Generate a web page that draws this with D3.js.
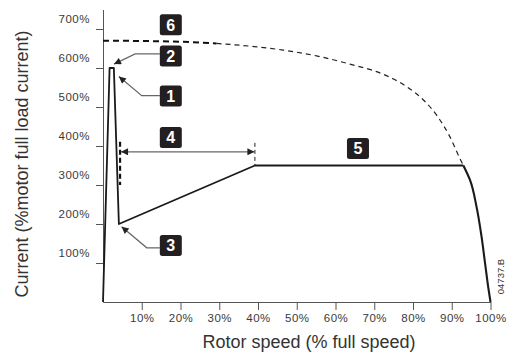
<!DOCTYPE html>
<html lang="en">
<head>
    <meta charset="UTF-8">
    <title>Soft start current profile</title>
    <script src="https://d3js.org/d3.v7.min.js"></script>
    <style>
        body { margin: 0; background: #fff; }
        .tick text { font-family: Arial, "Liberation Sans", sans-serif; font-size: 11.5px; fill: #3a3a3a; letter-spacing: 0.5px; }
        .title { font-family: Arial, "Liberation Sans", sans-serif; font-size: 18px; fill: #333; }
        .num { font-family: Arial, "Liberation Sans", sans-serif; font-size: 16px; font-weight: bold; fill: #fff; }
    </style>
</head>
<body>
<svg width="514" height="353"></svg>

<script>
    // ticks
    const yTicks = [100, 200, 300, 400, 500, 600, 700];
    const xTicks = [10, 20, 30, 40, 50, 60, 70, 80, 90, 100];

    // motor current during soft start (% speed, % FLC)
    const curX = [0, 1.7, 2.8, 4.1, 39.2, 93, 94.7, 96.4, 97.7, 98.6, 99.4, 100];
    const curY = [0, 600, 600, 200, 350, 350, 313, 244, 167, 99, 39, 0];

    // direct on line current (dashed)
    const dolX = [0, 12.1, 20.7, 29.3, 37.9, 46.5, 55.1, 63.7, 72.3, 78.4, 82.7, 86.1, 89.5, 92.1, 93];
    const dolY = [670, 669, 667, 663, 656, 646, 631, 610, 584, 552, 518, 479, 424, 368, 350];

    // numbered callouts with leaders: box centre, elbow, arrow tip
    const calloutIds = ["1", "2", "3"];
    const calloutBox = [[17.5, 528], [17.5, 631], [17.5, 145]];
    const calloutElbow = [[10, 529], [8.3, 636], [11.3, 139]];
    const calloutTip = [[4.1, 578], [2.84, 610], [4.8, 193]];

    // plain labels
    const labelIds = ["6", "4", "5"];
    const labelPos = [[17.5, 711], [17.5, 422], [65.8, 393.5]];

    // ramp span (4)
    const rampFrom = 4.4, rampTo = 39.2, rampLevel = 385;

    const svg = d3.select("svg");
    const x = d3.scaleLinear().domain([0, 100]).range([103, 490.5]);
    const y = d3.scaleLinear().domain([0, 750]).range([302, 9.5]);

    const defs = svg.append("defs");
    defs.append("marker")
        .attr("id", "arr")
        .attr("viewBox", "0 0 10 10")
        .attr("refX", 10).attr("refY", 5)
        .attr("markerWidth", 10).attr("markerHeight", 7)
        .attr("markerUnits", "userSpaceOnUse")
        .attr("orient", "auto-start-reverse")
        .append("path")
        .attr("d", "M0,0L10,5L0,10Z")
        .attr("fill", "#222");

    // axes
    const yAxis = svg.append("g")
        .attr("transform", `translate(${x(0)},0)`)
        .call(d3.axisLeft(y).tickValues(yTicks).tickSize(7).tickSizeOuter(0)
            .tickFormat(d => d + "%"));
    yAxis.select(".domain").attr("stroke", "#555");
    yAxis.selectAll(".tick line").attr("stroke", "#555");
    yAxis.selectAll(".tick text").attr("x", -13).attr("dy", "-0.55em");

    const xAxis = svg.append("g")
        .attr("transform", `translate(0,${y(0)})`)
        .call(d3.axisBottom(x).tickValues(xTicks).tickSize(8).tickSizeOuter(0)
            .tickFormat(d => d + "%"));
    xAxis.select(".domain").attr("stroke", "#555");
    xAxis.selectAll(".tick line").attr("stroke", "#555");
    xAxis.selectAll(".tick text").attr("y", 12);

    svg.append("text").attr("class", "title")
        .attr("transform", "translate(27.5,164) rotate(-90)")
        .attr("text-anchor", "middle")
        .text("Current (%motor full load current)");
    svg.append("text").attr("class", "title")
        .attr("x", 309).attr("y", 348)
        .attr("text-anchor", "middle")
        .text("Rotor speed (% full speed)");
    svg.append("text")
        .attr("transform", "translate(503.5,276.5) rotate(-90)")
        .attr("text-anchor", "middle")
        .attr("font-family", "Arial, 'Liberation Sans', sans-serif")
        .attr("font-size", "9.5px").attr("fill", "#333")
        .text("04737.B");

    // dashed DOL curve: heavy dashes at low speed, light after
    const line = d3.line().x(d => x(d[0])).y(d => y(d[1]));
    const dol = dolX.map((v, i) => [v, dolY[i]]);
    svg.append("path")
        .attr("d", line.curve(d3.curveMonotoneX)(dol.slice(3)))
        .attr("fill", "none").attr("stroke", "#222")
        .attr("stroke-width", 1.2).attr("stroke-dasharray", "5,4");
    svg.append("path")
        .attr("d", line.curve(d3.curveMonotoneX)(dol.slice(0, 4)))
        .attr("fill", "none").attr("stroke", "#111")
        .attr("stroke-width", 2).attr("stroke-dasharray", "6,4");

    // ramp markers
    svg.append("line")
        .attr("x1", x(rampFrom)).attr("x2", x(rampFrom))
        .attr("y1", y(411)).attr("y2", y(300))
        .attr("stroke", "#111").attr("stroke-width", 2.2).attr("stroke-dasharray", "5,3");
    svg.append("line")
        .attr("x1", x(rampTo)).attr("x2", x(rampTo))
        .attr("y1", y(408)).attr("y2", y(351))
        .attr("stroke", "#222").attr("stroke-width", 1).attr("stroke-dasharray", "4,3");
    svg.append("line")
        .attr("x1", x(rampFrom) + 1).attr("x2", x(rampTo) - 0.5)
        .attr("y1", y(rampLevel)).attr("y2", y(rampLevel))
        .attr("stroke", "#666").attr("stroke-width", 1.2)
        .attr("marker-start", "url(#arr)").attr("marker-end", "url(#arr)");

    // current curve: straight ramps, smooth fall-off near full speed
    const cur = curX.map((v, i) => [v, curY[i]]);
    svg.append("path")
        .attr("d", line.curve(d3.curveLinear)(cur.slice(0, 6)))
        .attr("fill", "none").attr("stroke", "#1a1a1a")
        .attr("stroke-width", 1.8).attr("stroke-linejoin", "round");
    svg.append("path")
        .attr("d", line.curve(d3.curveMonotoneY)(cur.slice(5)))
        .attr("fill", "none").attr("stroke", "#1a1a1a")
        .attr("stroke-width", 2.1).attr("stroke-linejoin", "round");

    // leaders
    calloutIds.forEach((id, i) => {
        const b = calloutBox[i], e = calloutElbow[i], t = calloutTip[i];
        svg.append("path")
            .attr("d", `M${x(b[0]) - 11},${y(e[1])}L${x(e[0])},${y(e[1])}L${x(t[0])},${y(t[1])}`)
            .attr("fill", "none").attr("stroke", "#666").attr("stroke-width", 1.2)
            .attr("marker-end", "url(#arr)");
    });

    // numbered boxes
    const boxes = calloutIds.map((id, i) => [id, calloutBox[i]])
        .concat(labelIds.map((id, i) => [id, labelPos[i]]));
    const g = svg.selectAll(".lbl").data(boxes).join("g")
        .attr("transform", d => `translate(${x(d[1][0])},${y(d[1][1])})`);
    g.append("rect")
        .attr("x", -11).attr("y", -10.5).attr("width", 22).attr("height", 21)
        .attr("rx", 2.5).attr("fill", "#231f20");
    g.append("text").attr("class", "num")
        .attr("text-anchor", "middle").attr("dy", "0.37em")
        .text(d => d[0]);
</script>
</body>
</html>
